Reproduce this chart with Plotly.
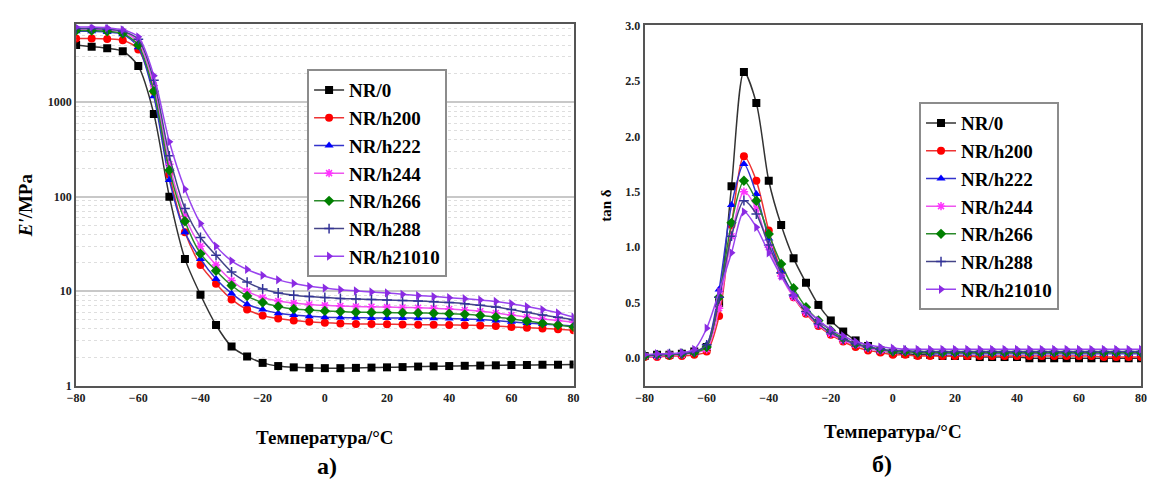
import plotly.graph_objects as go

# ---- data -------------------------------------------------------------
names = ["NR/0", "NR/h200", "NR/h222", "NR/h244", "NR/h266", "NR/h288", "NR/h21010"]
colors = ["#000000", "#ff0000", "#0000ff", "#ff33ff", "#008000", "#333399", "#8a2be2"]
line_colors = ["#333333", "#ee3333", "#3333cc", "#ee55ee", "#2a8a2a", "#444488", "#9944ee"]
symbols = ["square", "circle", "triangle-up", "asterisk-open", "diamond", "cross-thin-open", "triangle-right"]

# storage modulus E' (MPa) vs temperature
temp_e = [-80, -75, -70, -65, -60, -55, -50, -45, -40, -35, -30, -25, -20, -15, -10, -5, 0,
          5, 10, 15, 20, 25, 30, 35, 40, 45, 50, 55, 60, 65, 70, 75, 80]
e_nr0 = [4000, 3850, 3700, 3450, 2400, 750, 100, 22, 9.2, 4.4, 2.6, 2.05, 1.75, 1.62, 1.57, 1.55, 1.54,
         1.54, 1.55, 1.56, 1.57, 1.58, 1.6, 1.61, 1.62, 1.63, 1.64, 1.65, 1.66, 1.66, 1.67, 1.67, 1.68]
e_h200 = [4700, 4700, 4650, 4500, 3600, 1300, 170, 42, 19, 12, 8.2, 6.4, 5.55, 5.15, 4.9, 4.75, 4.65,
          4.57, 4.52, 4.5, 4.48, 4.46, 4.44, 4.42, 4.4, 4.38, 4.35, 4.3, 4.2, 4.12, 4.05, 3.97, 3.88]
e_h222 = [5600, 5600, 5500, 5200, 3800, 1150, 150, 42, 22, 13.5, 9.5, 7.3, 6.4, 5.85, 5.6, 5.45, 5.33,
          5.27, 5.24, 5.23, 5.22, 5.22, 5.2, 5.18, 5.15, 5.1, 5.02, 4.9, 4.75, 4.62, 4.5, 4.4, 4.3]
e_h244 = [5900, 5900, 5800, 5500, 4300, 1500, 220, 62, 30, 19, 13, 10, 8.6, 7.9, 7.5, 7.25, 7.1,
          7.0, 6.9, 6.85, 6.8, 6.75, 6.7, 6.6, 6.5, 6.35, 6.15, 5.9, 5.6, 5.35, 5.1, 4.9, 4.7]
e_h266 = [5700, 5700, 5600, 5300, 4000, 1300, 190, 55, 25, 16.5, 11.5, 8.9, 7.6, 6.9, 6.5, 6.35, 6.2,
          6.1, 6.0, 5.98, 5.95, 5.92, 5.9, 5.85, 5.8, 5.7, 5.55, 5.35, 5.1, 4.85, 4.6, 4.4, 4.2]
e_h288 = [6000, 6000, 5900, 5600, 4600, 1700, 270, 75, 37, 24, 16, 12.5, 10.6, 9.6, 9.1, 8.8, 8.6,
          8.4, 8.3, 8.2, 8.1, 8.0, 7.9, 7.75, 7.6, 7.4, 7.1, 6.8, 6.4, 6.0, 5.6, 5.3, 5.0]
e_h21010 = [6200, 6200, 6100, 5800, 4900, 1900, 380, 120, 52, 30, 21, 17, 14.7, 13.2, 12.1, 11.3, 10.8,
            10.4, 10.1, 9.85, 9.6, 9.3, 9.0, 8.8, 8.55, 8.35, 8.1, 7.8, 7.4, 6.9, 6.4, 5.9, 5.35]

# loss factor tan delta vs temperature
temp_t = [-80, -76, -72, -68, -64, -60, -56, -52, -48, -44, -40, -36, -32, -28, -24, -20, -16, -12, -8, -4, 0,
          4, 8, 12, 16, 20, 24, 28, 32, 36, 40, 44, 48, 52, 56, 60, 64, 68, 72, 76, 80]
t_nr0 = [0.02, 0.03, 0.03, 0.04, 0.06, 0.1, 0.5, 1.55, 2.58, 2.3, 1.6, 1.2, 0.9, 0.68, 0.48, 0.34, 0.24, 0.16, 0.11, 0.07, 0.05,
         0.04, 0.03, 0.03, 0.02, 0.02, 0.02, 0.01, 0.01, 0.01, 0.01, 0.0, 0.0, 0.0, 0.0, 0.0, 0.0, 0.0, 0.0, 0.0, 0.0]
t_h200 = [0.01, 0.01, 0.02, 0.02, 0.03, 0.06, 0.38, 1.2, 1.82, 1.6, 1.15, 0.78, 0.55, 0.4, 0.29, 0.21, 0.15, 0.1, 0.07, 0.05, 0.03,
          0.03, 0.02, 0.02, 0.02, 0.02, 0.02, 0.02, 0.02, 0.02, 0.02, 0.02, 0.02, 0.02, 0.02, 0.02, 0.02, 0.01, 0.01, 0.01, 0.01]
t_h222 = [0.02, 0.02, 0.03, 0.04, 0.05, 0.12, 0.62, 1.38, 1.75, 1.48, 1.08, 0.78, 0.57, 0.42, 0.31, 0.23, 0.17, 0.12, 0.09, 0.07, 0.06,
          0.05, 0.05, 0.04, 0.04, 0.04, 0.04, 0.04, 0.04, 0.04, 0.04, 0.04, 0.04, 0.04, 0.04, 0.04, 0.04, 0.04, 0.04, 0.04, 0.04]
t_h244 = [0.02, 0.02, 0.03, 0.03, 0.05, 0.08, 0.45, 1.1, 1.5, 1.35, 1.0, 0.74, 0.55, 0.41, 0.3, 0.22, 0.16, 0.12, 0.09, 0.07, 0.06,
          0.06, 0.05, 0.05, 0.05, 0.05, 0.05, 0.05, 0.05, 0.05, 0.05, 0.05, 0.05, 0.05, 0.05, 0.05, 0.05, 0.05, 0.05, 0.05, 0.05]
t_h266 = [0.02, 0.03, 0.03, 0.04, 0.05, 0.1, 0.55, 1.22, 1.6, 1.42, 1.12, 0.85, 0.63, 0.46, 0.34, 0.25, 0.18, 0.13, 0.1, 0.08, 0.06,
          0.06, 0.05, 0.05, 0.05, 0.05, 0.05, 0.05, 0.05, 0.05, 0.05, 0.05, 0.05, 0.05, 0.05, 0.05, 0.05, 0.05, 0.05, 0.05, 0.05]
t_h288 = [0.03, 0.03, 0.04, 0.04, 0.06, 0.12, 0.55, 1.1, 1.42, 1.3, 1.02, 0.77, 0.57, 0.42, 0.31, 0.23, 0.17, 0.13, 0.1, 0.08, 0.07,
          0.07, 0.06, 0.06, 0.06, 0.06, 0.06, 0.06, 0.06, 0.06, 0.06, 0.06, 0.06, 0.06, 0.06, 0.06, 0.06, 0.06, 0.06, 0.06, 0.06]
t_h21010 = [0.03, 0.04, 0.04, 0.05, 0.08, 0.27, 0.6, 0.95, 1.32, 1.18, 0.95, 0.74, 0.57, 0.44, 0.34, 0.26, 0.2, 0.15, 0.12, 0.1, 0.09,
            0.08, 0.08, 0.08, 0.08, 0.08, 0.08, 0.08, 0.08, 0.08, 0.08, 0.08, 0.08, 0.08, 0.08, 0.08, 0.08, 0.08, 0.08, 0.08, 0.08]

e_series = [e_nr0, e_h200, e_h222, e_h244, e_h266, e_h288, e_h21010]
t_series = [t_nr0, t_h200, t_h222, t_h244, t_h266, t_h288, t_h21010]

x_ticks = [-80, -60, -40, -20, 0, 20, 40, 60, 80]

# ---- figure -----------------------------------------------------------
SERIF = "Liberation Serif"
fig = go.Figure()


def marker_style(i, size):
    open_sym = symbols[i].endswith("open")
    return dict(symbol=symbols[i], size=size if not open_sym else size - 1,
                color=colors[i],
                line=dict(color=colors[i], width=1.5 if open_sym else 0))


for i, name in enumerate(names):
    fig.add_trace(go.Scatter(
        x=temp_e, y=e_series[i], name=name, mode="lines+markers",
        line=dict(color=line_colors[i], width=1.5, shape="spline", smoothing=0.8),
        marker=marker_style(i, 8),
        xaxis="x", yaxis="y", legend="legend",
    ))

for i, name in enumerate(names):
    fig.add_trace(go.Scatter(
        x=temp_t, y=t_series[i], name=name, mode="lines+markers",
        line=dict(color=line_colors[i], width=1.5, shape="spline", smoothing=0.8),
        marker=marker_style(i, 8),
        xaxis="x2", yaxis="y2", legend="legend2",
    ))

tick_font = dict(family=SERIF, size=12, color="#222222", weight="bold")
title_font = dict(family=SERIF, size=19, color="#000000", weight="bold")
frame = dict(showline=True, linecolor="#555555", linewidth=2, mirror=True, ticks="", zeroline=False)

legend_common = dict(
    font=dict(family=SERIF, size=19, color="#000000", weight="bold"),
    bgcolor="#ffffff", bordercolor="#8c8c8c", borderwidth=2,
    xanchor="left", yanchor="top", tracegroupgap=0, itemwidth=30,
)

fig.update_layout(
    width=1154, height=491,
    margin=dict(l=0, r=0, t=0, b=0),
    paper_bgcolor="#ffffff", plot_bgcolor="#ffffff",
    xaxis=dict(domain=[68 / 1154, 572 / 1154], range=[-80, 80], tickvals=x_ticks,
               tickfont=tick_font, showgrid=False, anchor="y",
               title=dict(text="Температура/°C", font=title_font, standoff=26), **frame),
    yaxis=dict(domain=[1 - 390 / 491, 1 - 18 / 491], type="log", range=[0, 3.82],
               tickvals=[1, 10, 100, 1000], ticktext=["1", "10", "100", "1000"],
               tickfont=tick_font, anchor="x",
               showgrid=True, gridcolor="#c8c8c8", gridwidth=1.5,
               minor=dict(dtick="D1", showgrid=True, gridcolor="#dedede", griddash="dot", gridwidth=1),
               title=dict(text="<i>E'</i>/MPa", font=title_font, standoff=10), **frame),
    xaxis2=dict(domain=[644 / 1154, 1147 / 1154], range=[-80, 80], tickvals=x_ticks,
                tickfont=tick_font, showgrid=False, anchor="y2",
                title=dict(text="Температура/°C", font=title_font, standoff=20), **frame),
    yaxis2=dict(domain=[1 - 390 / 491, 1 - 19 / 491], range=[-0.25, 3.0],
                tickvals=[0, 0.5, 1.0, 1.5, 2.0, 2.5, 3.0], tickformat=".1f",
                tickfont=tick_font, showgrid=False, anchor="x2",
                title=dict(text="tan δ", font=dict(family=SERIF, size=15, color="#000000", weight="bold"),
                           standoff=10), **frame),
    legend=dict(x=302 / 1154, y=1 - 64 / 491, **legend_common),
    legend2=dict(x=922 / 1154, y=1 - 98 / 491, **legend_common),
    showlegend=True,
    annotations=[
        dict(text="а)", x=322 / 1154, y=1 - 472 / 491, xref="paper", yref="paper",
             xanchor="center", yanchor="middle", showarrow=False,
             font=dict(family=SERIF, size=24, color="#000000", weight="bold")),
        dict(text="б)", x=884 / 1154, y=1 - 470 / 491, xref="paper", yref="paper",
             xanchor="center", yanchor="middle", showarrow=False,
             font=dict(family=SERIF, size=24, color="#000000", weight="bold")),
    ],
)

fig.write_html("out.html")
